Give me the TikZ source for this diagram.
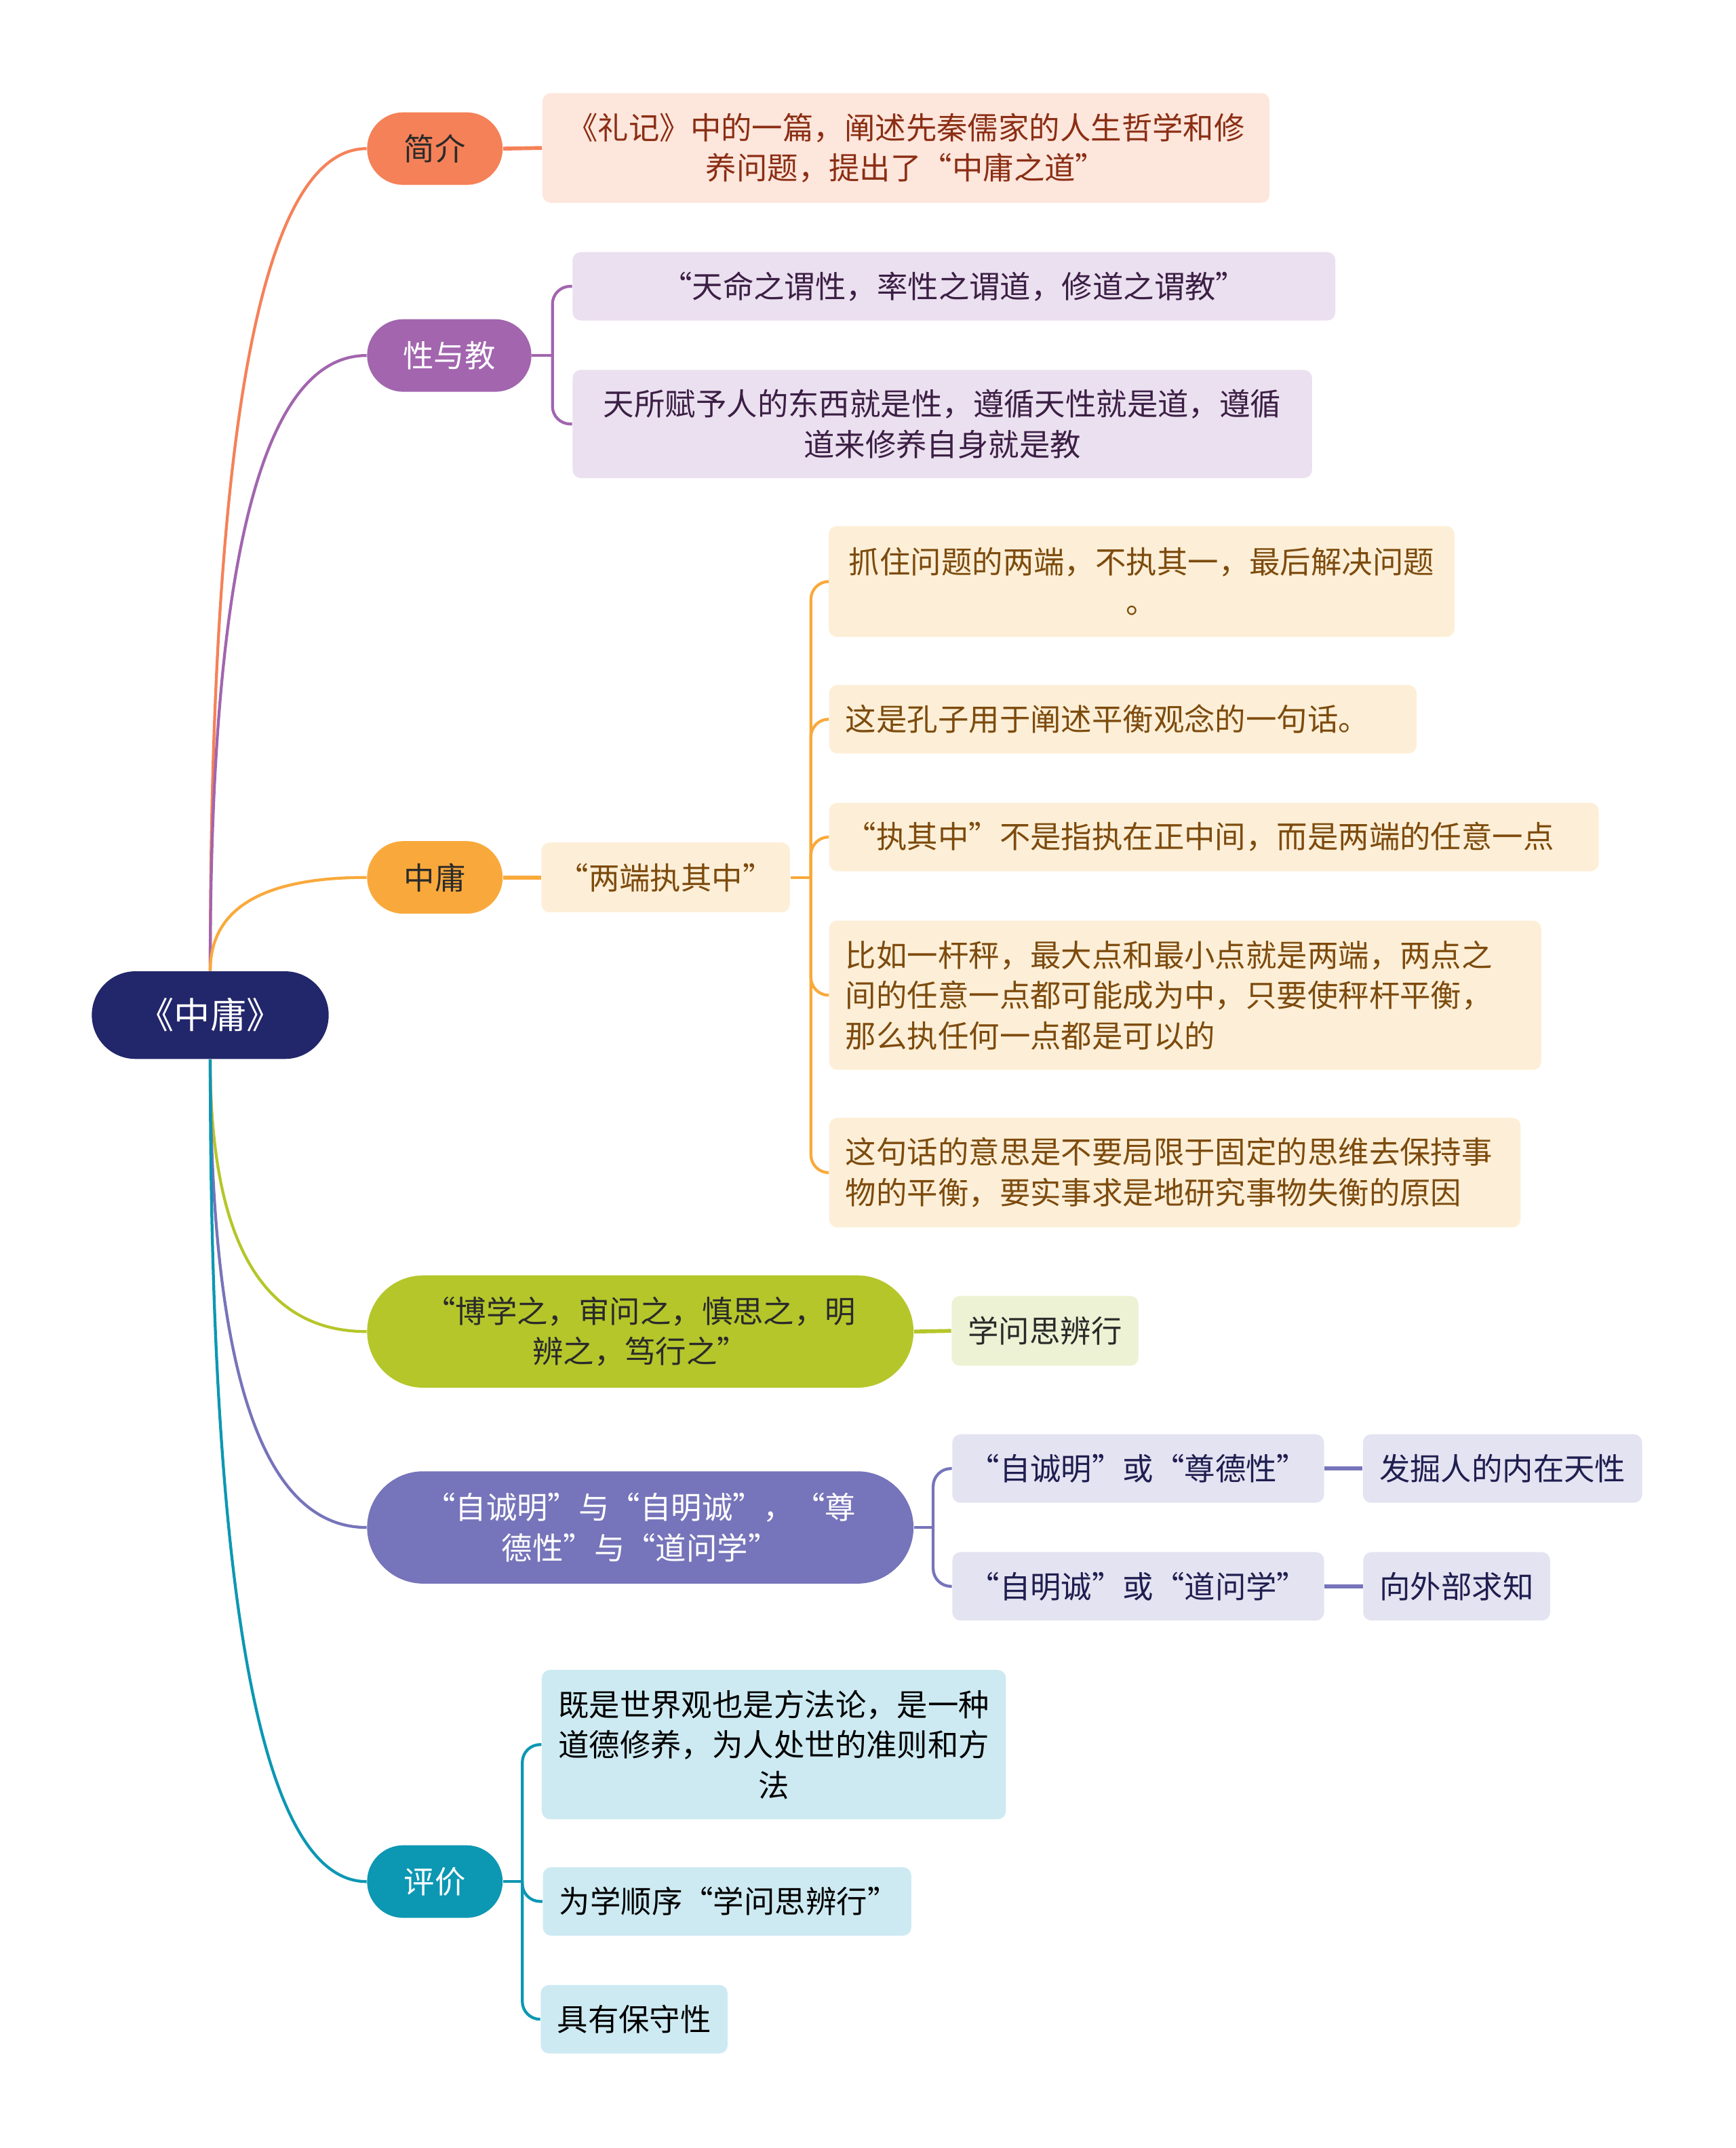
\documentclass[tikz,border=0pt]{standalone}
\usepackage{fontspec}
\setmainfont{Noto Sans CJK SC}
\usetikzlibrary{calc}

\definecolor{navy}{HTML}{22266A}
\definecolor{coral}{HTML}{F58158}
\definecolor{coralfill}{HTML}{FDE6DC}
\definecolor{coraltext}{HTML}{8B2E14}
\definecolor{plum}{HTML}{A265AE}
\definecolor{plumfill}{HTML}{EBE0EF}
\definecolor{plumtext}{HTML}{3C1F45}
\definecolor{amber}{HTML}{F9A93B}
\definecolor{amberfill}{HTML}{FDEFD7}
\definecolor{ambertext}{HTML}{7D4B0E}
\definecolor{lime}{HTML}{B5C62A}
\definecolor{limefill}{HTML}{EEF2D4}
\definecolor{slate}{HTML}{7674BA}
\definecolor{slatefill}{HTML}{E4E3F1}
\definecolor{slatetext}{HTML}{1F1E50}
\definecolor{teal}{HTML}{0C97B3}
\definecolor{tealfill}{HTML}{CDEAF2}
\definecolor{ink}{HTML}{2A2A2A}

\begin{document}
\begin{tikzpicture}[
    x=0.02cm, y=-0.02cm,
    link/.style={line width=1.2pt},
    fork/.style={line width=1.2pt, rounded corners=0.26cm},
    txt/.style={font=\fontsize{12.8}{16.8}\selectfont},
    rootbox/.style={fill=navy, text=white, rounded corners=0.64cm,
                    minimum width=3.46cm, minimum height=1.28cm,
                    font=\fontsize{15}{18}\selectfont, inner sep=0pt},
    topic/.style={txt, rounded corners=0.53cm, minimum width=1.98cm,
                  minimum height=1.06cm, inner sep=0pt, align=center},
    widetopic/.style={topic, rounded corners=0.82cm, minimum width=7.98cm,
                      minimum height=1.64cm},
    leaf/.style={txt, rounded corners=0.12cm, inner xsep=0.24cm,
                 inner ysep=0pt, align=center},
    leftleaf/.style={leaf, align=left, anchor=west}
]
\useasboundingbox (0,0) rectangle (1267,1568);

% ---------- root ----------
\node[rootbox] (root) at (153.5,741) {《中庸》};

% ---------- topics ----------
\node[topic, fill=coral, text=ink] (intro) at (317.5,108.5) {简介};
\node[topic, fill=plum, text=white, minimum width=2.4cm] (nature) at (328,259.5) {性与教};
\node[topic, fill=amber, text=ink] (mean) at (317.5,640.5) {中庸};
\node[widetopic, fill=lime, text=ink] (study) at (467.5,972)
  {“博学之，审问之，慎思之，明\\辨之，笃行之”};
\node[widetopic, fill=slate, text=white] (sincere) at (467.5,1115)
  {“自诚明”与“自明诚”，“尊\\德性”与“道问学”};
\node[topic, fill=teal, text=white] (review) at (317.5,1373.5) {评价};

% ---------- leaves: intro ----------
\node[leaf, fill=coralfill, text=coraltext, minimum width=10.62cm, minimum height=1.6cm]
  (intro1) at (661.5,108) {《礼记》中的一篇，阐述先秦儒家的人生哲学和修\\养问题，提出了“中庸之道”};

% ---------- leaves: nature ----------
\node[leaf, fill=plumfill, text=plumtext, minimum width=11.14cm, minimum height=1.0cm]
  (nature1) at (696.5,209) {“天命之谓性，率性之谓道，修道之谓教”};
\node[leaf, fill=plumfill, text=plumtext, minimum width=10.8cm, minimum height=1.58cm]
  (nature2) at (688,309.5) {天所赋予人的东西就是性，遵循天性就是道，遵循\\道来修养自身就是教};

% ---------- leaves: mean ----------
\node[leaf, fill=amberfill, text=ambertext, minimum width=3.6cm, minimum height=1.02cm]
  (ends) at (486,640.5) {“两端执其中”};
\node[leaf, fill=amberfill, text=ambertext, minimum width=9.14cm, minimum height=1.62cm]
  (mean1) at (833.5,424.5) {抓住问题的两端，不执其一，最后解决问题\\。};
\node[leftleaf, fill=amberfill, text=ambertext, text width=8.1cm, minimum height=1.0cm]
  (mean2) at (605,525) {这是孔子用于阐述平衡观念的一句话。};
\node[leftleaf, fill=amberfill, text=ambertext, text width=10.76cm, minimum height=1.0cm]
  (mean3) at (605,611) {“执其中”不是指执在正中间，而是两端的任意一点};
\node[leftleaf, fill=amberfill, text=ambertext, text width=9.92cm, minimum height=2.18cm]
  (mean4) at (605,726.5) {比如一杆秤，最大点和最小点就是两端，两点之\\间的任意一点都可能成为中，只要使秤杆平衡，\\那么执任何一点都是可以的};
\node[leftleaf, fill=amberfill, text=ambertext, text width=9.62cm, minimum height=1.6cm]
  (mean5) at (605,856) {这句话的意思是不要局限于固定的思维去保持事\\物的平衡，要实事求是地研究事物失衡的原因};

% ---------- leaves: study ----------
\node[leaf, fill=limefill, text=ink, minimum width=2.68cm, minimum height=1.02cm]
  (study1) at (763,971.5) {学问思辨行};

% ---------- leaves: sincere ----------
\node[leaf, fill=slatefill, text=slatetext, minimum width=5.4cm, minimum height=1.0cm]
  (sincere1) at (831,1072) {“自诚明”或“尊德性”};
\node[leaf, fill=slatefill, text=slatetext, minimum width=4.04cm, minimum height=1.0cm]
  (inner) at (1097,1072) {发掘人的内在天性};
\node[leaf, fill=slatefill, text=slatetext, minimum width=5.4cm, minimum height=1.0cm]
  (sincere2) at (831,1158) {“自明诚”或“道问学”};
\node[leaf, fill=slatefill, text=slatetext, minimum width=2.7cm, minimum height=1.0cm]
  (outer) at (1063.5,1158) {向外部求知};

% ---------- leaves: review ----------
\node[leaf, fill=tealfill, text=black, minimum width=6.76cm, minimum height=2.18cm]
  (review1) at (565,1273.5) {既是世界观也是方法论，是一种\\道德修养，为人处世的准则和方\\法};
\node[leftleaf, fill=tealfill, text=black, text width=4.9cm, minimum height=1.0cm]
  (review2) at (396,1388) {为学顺序“学问思辨行”};
\node[leaf, fill=tealfill, text=black, minimum width=2.68cm, minimum height=1.0cm]
  (review3) at (463,1474) {具有保守性};

% ---------- root to topics ----------
\foreach \t/\c in {intro/coral, nature/plum, mean/amber}
  \draw[link, \c] (root.north)
    .. controls ($(root.north)!2/3!(root.north |- \t.west)$)
    and ($(\t.west)!2/3!(root.north |- \t.west)$) .. (\t.west);
\foreach \t/\c in {study/lime, sincere/slate, review/teal}
  \draw[link, \c] (root.south)
    .. controls ($(root.south)!2/3!(root.south |- \t.west)$)
    and ($(\t.west)!2/3!(root.south |- \t.west)$) .. (\t.west);

% ---------- topics to leaves ----------
\draw[link, coral, line width=1.6pt] (intro.east) -- (intro1.west);

\draw[link, plum] (nature.east) -- ++(15,0) coordinate (nfork);
\draw[fork, plum] (nfork) |- (nature1.west);
\draw[fork, plum] (nfork) |- (nature2.west);

\draw[link, amber, line width=1.6pt] (mean.east) -- (ends.west);
\draw[link, amber] (ends.east) -- ++(15,0) coordinate (mfork);
\foreach \n in {mean1,mean2,mean3,mean4,mean5}
  \draw[fork, amber] (mfork) |- (\n.west);

\draw[link, lime, line width=1.6pt] (study.east) -- (study1.west);

\draw[link, slate] (sincere.east) -- ++(14,0) coordinate (sfork);
\draw[fork, slate] (sfork) |- (sincere1.west);
\draw[fork, slate] (sfork) |- (sincere2.west);
\draw[link, slate, line width=1.6pt] (sincere1.east) -- (inner.west);
\draw[link, slate, line width=1.6pt] (sincere2.east) -- (outer.west);

\draw[link, teal] (review.east) -- ++(14,0) coordinate (rfork);
\foreach \n in {review1,review2,review3}
  \draw[fork, teal] (rfork) |- (\n.west);

\end{tikzpicture}
\end{document}
